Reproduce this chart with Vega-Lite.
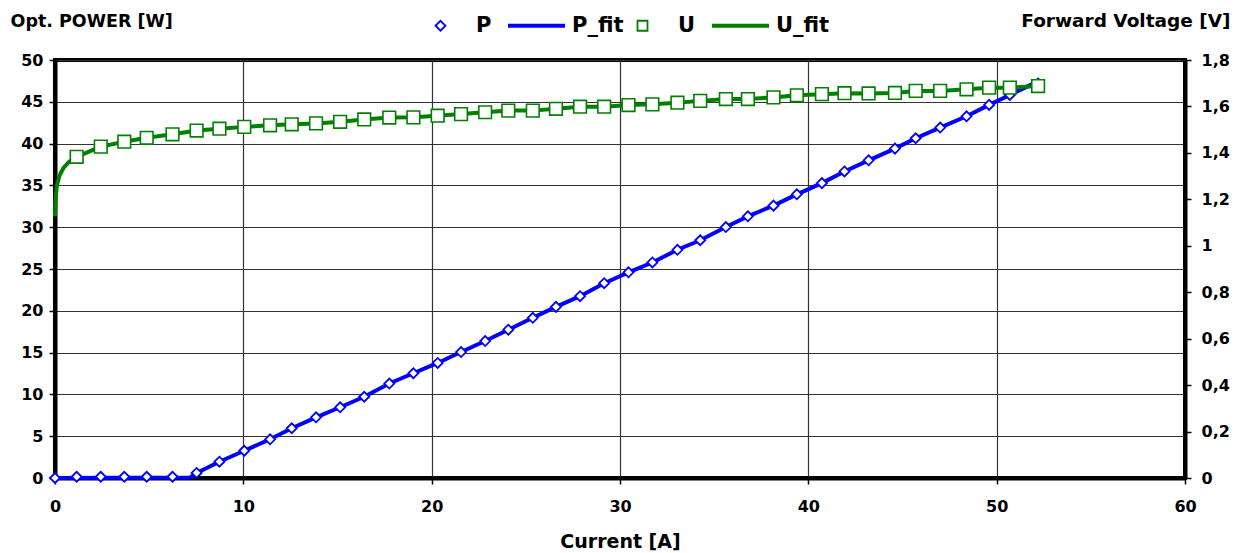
{
  "$schema": "https://vega.github.io/schema/vega-lite/v6.json",
  "width": 1130,
  "height": 418,
  "autosize": {"type": "none"},
  "padding": {"left": 55, "top": 60, "right": 60, "bottom": 75},
  "background": "white",
  "config": {
    "view": {"stroke": "black", "strokeWidth": 4},
    "axis": {
      "labelFont": "DejaVu Sans", "labelFontWeight": "bold", "labelFontSize": 16, "labelColor": "black", "labelFlush": false,
      "titleFont": "DejaVu Sans", "titleFontWeight": "bold", "titleFontSize": 17, "titleColor": "black",
      "gridColor": "#333333", "gridWidth": 1.2, "gridOpacity": 1,
      "domainColor": "black", "domainWidth": 4,
      "tickColor": "black", "tickWidth": 1.5, "tickSize": 6
    }
  },
  "data": {"values": [
    {"series":"P","I":0,"v":0},{"series":"P","I":1.15,"v":0.15},{"series":"P","I":2.43,"v":0.15},{"series":"P","I":3.68,"v":0.15},{"series":"P","I":4.87,"v":0.15},{"series":"P","I":6.24,"v":0.15},{"series":"P","I":7.52,"v":0.6},{"series":"P","I":8.73,"v":1.95},{"series":"P","I":10.05,"v":3.26},{"series":"P","I":11.42,"v":4.63},{"series":"P","I":12.57,"v":5.95},{"series":"P","I":13.86,"v":7.26},{"series":"P","I":15.14,"v":8.46},{"series":"P","I":16.42,"v":9.72},{"series":"P","I":17.75,"v":11.3},{"series":"P","I":19.03,"v":12.53},{"series":"P","I":20.32,"v":13.76},{"series":"P","I":21.56,"v":15.07},{"series":"P","I":22.84,"v":16.38},{"series":"P","I":24.07,"v":17.74},{"series":"P","I":25.37,"v":19.16},{"series":"P","I":26.6,"v":20.47},{"series":"P","I":27.88,"v":21.75},{"series":"P","I":29.16,"v":23.3},{"series":"P","I":30.45,"v":24.6},{"series":"P","I":31.72,"v":25.78},{"series":"P","I":33.05,"v":27.3},{"series":"P","I":34.26,"v":28.44},{"series":"P","I":35.62,"v":30.02},{"series":"P","I":36.79,"v":31.3},{"series":"P","I":38.15,"v":32.58},{"series":"P","I":39.39,"v":33.93},{"series":"P","I":40.72,"v":35.27},{"series":"P","I":41.92,"v":36.67},{"series":"P","I":43.2,"v":38.0},{"series":"P","I":44.6,"v":39.4},{"series":"P","I":45.7,"v":40.64},{"series":"P","I":47.0,"v":41.92},{"series":"P","I":48.4,"v":43.27},{"series":"P","I":49.6,"v":44.63},{"series":"P","I":50.7,"v":45.82},{"series":"P","I":52.2,"v":47.2},
    {"series":"P_fit","I":0,"v":0},{"series":"P_fit","I":7.15,"v":0.05},{"series":"P_fit","I":7.52,"v":0.6},{"series":"P_fit","I":8.73,"v":1.95},{"series":"P_fit","I":10.05,"v":3.26},{"series":"P_fit","I":11.42,"v":4.63},{"series":"P_fit","I":12.57,"v":5.95},{"series":"P_fit","I":13.86,"v":7.26},{"series":"P_fit","I":15.14,"v":8.46},{"series":"P_fit","I":16.42,"v":9.72},{"series":"P_fit","I":17.75,"v":11.3},{"series":"P_fit","I":19.03,"v":12.53},{"series":"P_fit","I":20.32,"v":13.76},{"series":"P_fit","I":21.56,"v":15.07},{"series":"P_fit","I":22.84,"v":16.38},{"series":"P_fit","I":24.07,"v":17.74},{"series":"P_fit","I":25.37,"v":19.16},{"series":"P_fit","I":26.6,"v":20.47},{"series":"P_fit","I":27.88,"v":21.75},{"series":"P_fit","I":29.16,"v":23.3},{"series":"P_fit","I":30.45,"v":24.6},{"series":"P_fit","I":31.72,"v":25.78},{"series":"P_fit","I":33.05,"v":27.3},{"series":"P_fit","I":34.26,"v":28.44},{"series":"P_fit","I":35.62,"v":30.02},{"series":"P_fit","I":36.79,"v":31.3},{"series":"P_fit","I":38.15,"v":32.58},{"series":"P_fit","I":39.39,"v":33.93},{"series":"P_fit","I":40.72,"v":35.27},{"series":"P_fit","I":41.92,"v":36.67},{"series":"P_fit","I":43.2,"v":38.0},{"series":"P_fit","I":44.6,"v":39.4},{"series":"P_fit","I":45.7,"v":40.64},{"series":"P_fit","I":47.0,"v":41.92},{"series":"P_fit","I":48.4,"v":43.27},{"series":"P_fit","I":49.6,"v":44.63},{"series":"P_fit","I":50.7,"v":45.82},{"series":"P_fit","I":52.25,"v":47.5},
    {"series":"U","I":1.15,"v":1.383},{"series":"U","I":2.43,"v":1.427},{"series":"U","I":3.68,"v":1.448},{"series":"U","I":4.87,"v":1.465},{"series":"U","I":6.24,"v":1.48},{"series":"U","I":7.52,"v":1.496},{"series":"U","I":8.73,"v":1.504},{"series":"U","I":10.05,"v":1.512},{"series":"U","I":11.42,"v":1.519},{"series":"U","I":12.57,"v":1.523},{"series":"U","I":13.86,"v":1.527},{"series":"U","I":15.14,"v":1.534},{"series":"U","I":16.42,"v":1.544},{"series":"U","I":17.75,"v":1.552},{"series":"U","I":19.03,"v":1.553},{"series":"U","I":20.32,"v":1.56},{"series":"U","I":21.56,"v":1.567},{"series":"U","I":22.84,"v":1.575},{"series":"U","I":24.07,"v":1.582},{"series":"U","I":25.37,"v":1.582},{"series":"U","I":26.6,"v":1.59},{"series":"U","I":27.88,"v":1.599},{"series":"U","I":29.16,"v":1.599},{"series":"U","I":30.45,"v":1.606},{"series":"U","I":31.72,"v":1.609},{"series":"U","I":33.05,"v":1.616},{"series":"U","I":34.26,"v":1.624},{"series":"U","I":35.62,"v":1.632},{"series":"U","I":36.79,"v":1.632},{"series":"U","I":38.15,"v":1.639},{"series":"U","I":39.39,"v":1.648},{"series":"U","I":40.72,"v":1.653},{"series":"U","I":41.92,"v":1.657},{"series":"U","I":43.2,"v":1.656},{"series":"U","I":44.6,"v":1.658},{"series":"U","I":45.7,"v":1.667},{"series":"U","I":47.0,"v":1.667},{"series":"U","I":48.4,"v":1.674},{"series":"U","I":49.6,"v":1.681},{"series":"U","I":50.7,"v":1.681},{"series":"U","I":52.2,"v":1.688},
    {"series":"U_fit","I":0,"v":1.127},{"series":"U_fit","I":0.03,"v":1.2},{"series":"U_fit","I":0.1,"v":1.26},{"series":"U_fit","I":0.25,"v":1.305},{"series":"U_fit","I":0.45,"v":1.335},{"series":"U_fit","I":0.75,"v":1.362},{"series":"U_fit","I":1.15,"v":1.383},{"series":"U_fit","I":2.43,"v":1.427},{"series":"U_fit","I":3.68,"v":1.448},{"series":"U_fit","I":4.87,"v":1.465},{"series":"U_fit","I":6.24,"v":1.48},{"series":"U_fit","I":7.52,"v":1.496},{"series":"U_fit","I":8.73,"v":1.504},{"series":"U_fit","I":10.05,"v":1.512},{"series":"U_fit","I":11.42,"v":1.519},{"series":"U_fit","I":12.57,"v":1.523},{"series":"U_fit","I":13.86,"v":1.527},{"series":"U_fit","I":15.14,"v":1.534},{"series":"U_fit","I":16.42,"v":1.544},{"series":"U_fit","I":17.75,"v":1.552},{"series":"U_fit","I":19.03,"v":1.553},{"series":"U_fit","I":20.32,"v":1.56},{"series":"U_fit","I":21.56,"v":1.567},{"series":"U_fit","I":22.84,"v":1.575},{"series":"U_fit","I":24.07,"v":1.582},{"series":"U_fit","I":25.37,"v":1.582},{"series":"U_fit","I":26.6,"v":1.59},{"series":"U_fit","I":27.88,"v":1.599},{"series":"U_fit","I":29.16,"v":1.599},{"series":"U_fit","I":30.45,"v":1.606},{"series":"U_fit","I":31.72,"v":1.609},{"series":"U_fit","I":33.05,"v":1.616},{"series":"U_fit","I":34.26,"v":1.624},{"series":"U_fit","I":35.62,"v":1.632},{"series":"U_fit","I":36.79,"v":1.632},{"series":"U_fit","I":38.15,"v":1.639},{"series":"U_fit","I":39.39,"v":1.648},{"series":"U_fit","I":40.72,"v":1.653},{"series":"U_fit","I":41.92,"v":1.657},{"series":"U_fit","I":43.2,"v":1.656},{"series":"U_fit","I":44.6,"v":1.658},{"series":"U_fit","I":45.7,"v":1.667},{"series":"U_fit","I":47.0,"v":1.667},{"series":"U_fit","I":48.4,"v":1.674},{"series":"U_fit","I":49.6,"v":1.681},{"series":"U_fit","I":50.7,"v":1.681},{"series":"U_fit","I":52.2,"v":1.688}
  ]},
  "encoding": {
    "x": {
      "field": "I", "type": "quantitative",
      "scale": {"domain": [0, 60], "nice": false, "zero": false},
      "axis": {
        "values": [0, 10, 20, 30, 40, 50, 60], "title": "Current [A]", "titleFontSize": 19,
        "labelPadding": 14, "titleBaseline": "alphabetic", "titleY": 69, "domain": true
      }
    }
  },
  "layer": [
    {
      "encoding": {
        "y": {
          "field": "v", "type": "quantitative",
          "scale": {"domain": [0, 50], "nice": false},
          "axis": {
            "orient": "left", "values": [0,5,10,15,20,25,30,35,40,45,50],
            "title": "Opt. POWER [W]", "titleAngle": 0, "titleAlign": "left", "titleBaseline": "alphabetic",
            "titleFontSize": 17.5, "titleX": -45, "titleY": -34, "labelPadding": 6
          }
        },
        "color": {
          "field": "series", "type": "nominal",
          "scale": {"domain": ["P", "P_fit", "U", "U_fit"], "range": ["#0000ff", "#0000ff", "#008000", "#008000"]},
          "legend": {
            "orient": "none", "legendX": 375, "legendY": -45, "direction": "horizontal", "title": null,
            "symbolSize": 3249, "labelFont": "DejaVu Sans", "labelFontWeight": "bold", "labelFontSize": 21,
            "labelColor": "black", "labelOffset": 25, "columnPadding": 8, "padding": 0,
            "encode": {"symbols": {"update": {
              "size": {"signal": "datum.value == 'P' || datum.value == 'U' ? 100 : 3249"},
              "strokeWidth": {"signal": "datum.value == 'P' || datum.value == 'U' ? 1.8 : 4"},
              "fill": {"value": "white"}
            }}}
          }
        }
      },
      "layer": [
        {
          "transform": [{"filter": "datum.series == 'P_fit'"}],
          "mark": {"type": "line", "strokeWidth": 4}
        },
        {
          "transform": [{"filter": "datum.series == 'P'"}],
          "mark": {"type": "point", "filled": false, "fill": "white", "fillOpacity": 1, "strokeWidth": 1.8, "size": 100, "opacity": 1},
          "encoding": {
            "shape": {
              "field": "series", "type": "nominal",
              "scale": {"domain": ["P", "P_fit", "U", "U_fit"], "range": ["diamond", "stroke", "square", "stroke"]},
              "legend": {
                "orient": "none", "legendX": 375, "legendY": -45, "direction": "horizontal", "title": null,
                "symbolSize": 3249, "labelFont": "DejaVu Sans", "labelFontWeight": "bold", "labelFontSize": 21,
                "labelColor": "black", "labelOffset": 25, "columnPadding": 8, "padding": 0,
                "encode": {"symbols": {"update": {
                  "size": {"signal": "datum.value == 'P' || datum.value == 'U' ? 100 : 3249"},
                  "strokeWidth": {"signal": "datum.value == 'P' || datum.value == 'U' ? 1.8 : 4"},
                  "fill": {"value": "white"}
                }}}
              }
            }
          }
        }
      ]
    },
    {
      "encoding": {
        "y": {
          "field": "v", "type": "quantitative",
          "scale": {"domain": [0, 1.8], "nice": false},
          "axis": {
            "orient": "right", "values": [0,0.2,0.4,0.6,0.8,1,1.2,1.4,1.6,1.8],
            "labelExpr": "replace(format(datum.value, '~g'), '.', ',')",
            "grid": false,
            "title": "Forward Voltage [V]", "titleAngle": 0, "titleAlign": "right", "titleBaseline": "alphabetic",
            "titleFontSize": 18.5, "titleX": 45, "titleY": -34, "labelPadding": 10
          }
        },
        "color": {"field": "series", "type": "nominal"}
      },
      "layer": [
        {
          "transform": [{"filter": "datum.series == 'U_fit'"}],
          "mark": {"type": "line", "strokeWidth": 4}
        },
        {
          "transform": [{"filter": "datum.series == 'U'"}],
          "mark": {"type": "point", "filled": false, "fill": "white", "fillOpacity": 1, "strokeWidth": 1.6, "size": 160, "opacity": 1},
          "encoding": {"shape": {"field": "series", "type": "nominal"}}
        }
      ]
    }
  ],
  "resolve": {"scale": {"y": "independent"}}
}
